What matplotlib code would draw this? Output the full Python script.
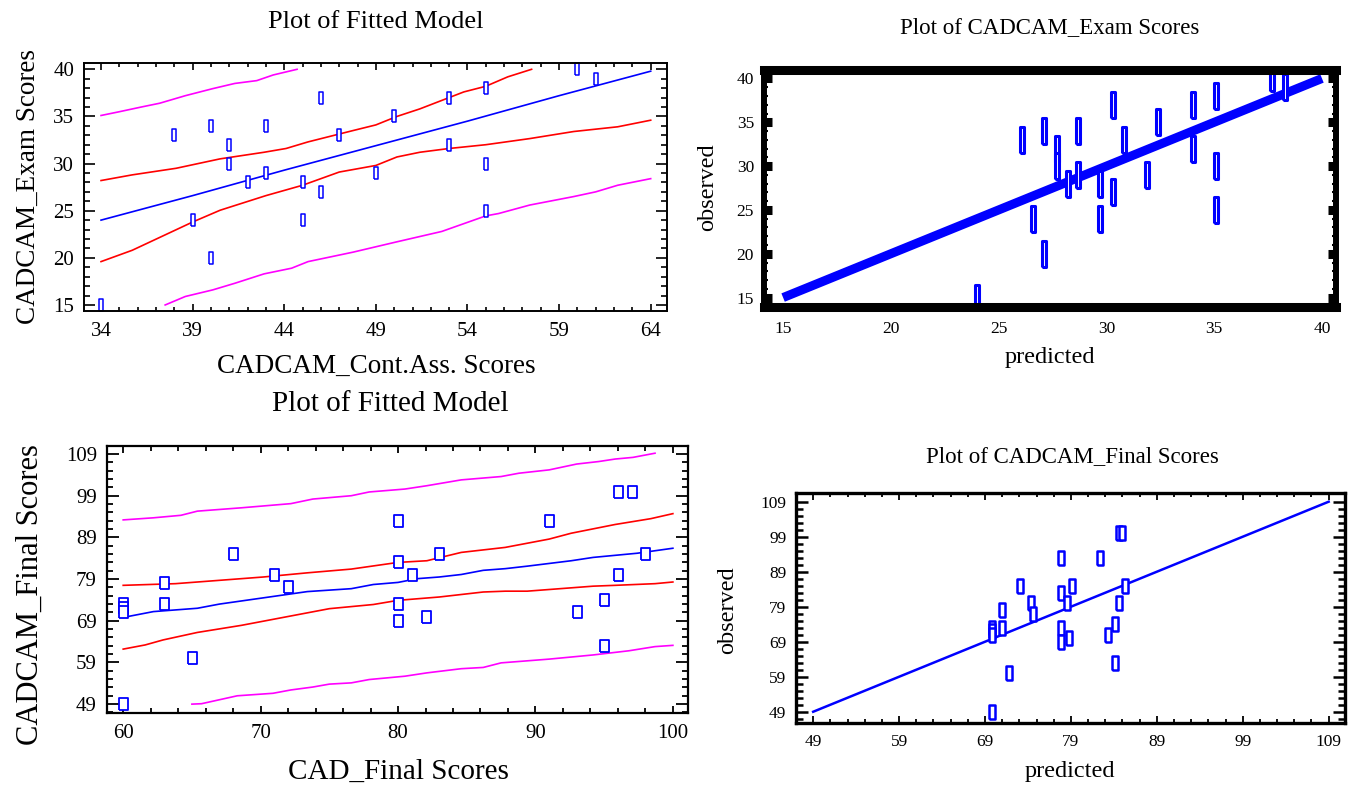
import matplotlib
matplotlib.use("Agg")
import matplotlib.pyplot as plt
from matplotlib.ticker import MultipleLocator

plt.rcParams['font.family'] = ['Liberation Serif', 'DejaVu Serif']

# ---- data: CADCAM exam vs continuous assessment ----
cont_ass = [34, 38, 39, 40, 40, 41, 41, 42, 43, 43, 45, 45, 46, 46, 47, 49, 50, 53, 53, 55, 55, 55, 60, 61]
exam = [15, 33, 24, 34, 20, 32, 30, 28, 34, 29, 28, 24, 37, 27, 33, 29, 35, 37, 32, 38, 30, 25, 40, 39]
exam_pred = [24.0, 26.1, 26.6, 27.1, 27.1, 27.7, 27.7, 28.2, 28.7, 28.7, 29.7, 29.7, 30.3, 30.3, 30.8, 31.9,
             32.4, 34.0, 34.0, 35.1, 35.1, 35.1, 37.7, 38.3]

fit1_x = [34, 39, 44, 49, 54, 59, 64]
fit1_y = [24.0, 26.6, 29.3, 31.9, 34.5, 37.2, 39.8]
conf1_up_x = [34, 35.7, 38.1, 40.5, 42.9, 44.1, 45.3, 47.75, 49.0, 50.15, 51.4, 52.6, 53.8, 55.0, 56.2, 57.5]
conf1_up_y = [28.2, 28.8, 29.5, 30.5, 31.2, 31.6, 32.3, 33.5, 34.1, 35.0, 35.8, 36.7, 37.6, 38.2, 39.2, 40.0]
conf1_lo_x = [34, 35.7, 39.0, 40.5, 43.0, 45.0, 47.0, 49.0, 50.15, 51.4, 53.0, 55.0, 57.4, 59.8, 62.2, 64]
conf1_lo_y = [19.6, 20.8, 23.8, 25.05, 26.6, 27.7, 29.1, 29.8, 30.7, 31.2, 31.6, 32.0, 32.65, 33.4, 33.9, 34.6]
pred1_up_x = [34, 35.0, 36.2, 37.2, 38.6, 40.1, 41.3, 42.5, 43.4, 44.7]
pred1_up_y = [35.1, 35.5, 36.0, 36.4, 37.2, 37.95, 38.5, 38.8, 39.4, 40.0]
pred1_lo_x = [37.5, 38.6, 40.1, 41.3, 42.9, 44.4, 45.3, 47.75, 50.15, 52.6, 55.0, 55.7, 57.4, 59.8, 61.0, 62.2, 64]
pred1_lo_y = [15.0, 15.9, 16.6, 17.3, 18.3, 18.9, 19.6, 20.6, 21.7, 22.8, 24.45, 24.7, 25.6, 26.5, 27.0, 27.7, 28.4]
diag1 = [15, 40]

# ---- data: CADCAM final vs CAD final ----
cad_final = [60, 60, 60, 60, 63, 63, 65, 68, 71, 72, 80, 80, 80, 80, 81, 82, 83, 91, 93, 95, 95, 96, 96, 97, 98]
cadcam_final = [49, 73, 72, 71, 78, 73, 60, 85, 80, 77, 93, 83, 73, 69, 80, 70, 85, 93, 71, 74, 63, 100, 80, 100, 85]
final_pred = [69.8, 69.8, 69.8, 69.8, 71.0, 71.0, 71.8, 73.1, 74.3, 74.6, 77.9, 77.9, 77.9, 77.9, 78.5, 78.8,
              79.1, 82.4, 83.3, 84.1, 84.1, 84.6, 84.6, 84.9, 85.3]

fit2_x = [60, 62.2, 65.4, 67.0, 70.2, 73.4, 76.6, 78.2, 80.0, 81.4, 83.0, 84.6, 86.2, 87.8, 89.4, 92.6, 94.2, 97.4, 100]
fit2_y = [69.8, 71.2, 72.0, 73.0, 74.5, 76.0, 76.7, 77.7, 78.2, 79.1, 79.5, 80.1, 81.1, 81.5, 82.1, 83.4, 84.2, 85.2, 86.4]
conf2_up_x = [60, 63.8, 67.0, 70.2, 73.4, 76.6, 80, 82.1, 84.6, 86.2, 87.8, 91.0, 92.6, 95.8, 98.4, 100]
conf2_up_y = [77.5, 77.9, 78.7, 79.5, 80.5, 81.4, 83.0, 83.4, 85.4, 86.0, 86.6, 88.6, 90.0, 92.1, 93.5, 94.7]
conf2_lo_x = [60, 61.6, 62.9, 65.4, 68.6, 71.8, 75.0, 78.2, 80, 83.0, 86.2, 87.8, 89.4, 92.6, 94.2, 95.8, 98.7, 100]
conf2_lo_y = [62.2, 63.2, 64.4, 66.2, 67.9, 69.9, 71.9, 72.9, 73.9, 74.7, 75.9, 76.1, 76.1, 76.9, 77.3, 77.5, 77.9, 78.3]
pred2_up_x = [60, 62.2, 64.2, 65.4, 68.6, 72.2, 73.8, 76.6, 77.9, 80.5, 82.1, 84.6, 87.5, 88.8, 91.0, 93.0, 94.6,
              95.8, 97.1, 98.7]
pred2_up_y = [93.2, 93.7, 94.3, 95.3, 96.1, 97.1, 98.2, 99.0, 99.9, 100.6, 101.4, 102.8, 103.6, 104.4, 105.2, 106.6,
              107.2, 107.8, 108.2, 109.2]
pred2_lo_x = [65.0, 65.7, 68.3, 70.9, 72.2, 73.8, 75.0, 76.6, 77.9, 80.5, 82.1, 84.6, 86.2, 87.5, 91.0, 94.2, 96.8,
              98.7, 100]
pred2_lo_y = [49.0, 49.1, 51.0, 51.6, 52.4, 53.1, 53.8, 54.1, 54.9, 55.7, 56.5, 57.5, 57.8, 58.9, 59.8, 60.8, 61.8,
              62.8, 63.1]
diag2 = [49, 109]

W, H = 1352, 788
BLUE, RED, MAG = '#0000ff', '#ff0000', '#ff00ff'


def px(x, y):
    return x / W, 1 - y / H


def rect(w, h):
    return [(-w, -h), (w, -h), (w, h), (-w, h), (-w, -h)]


fig = plt.figure(figsize=(W / 100, H / 100), dpi=100)

# axes positions in pixels: left, top, right, bottom
def add_ax(l, t, r, b):
    return fig.add_axes([l / W, 1 - b / H, (r - l) / W, (b - t) / H])


ax1 = add_ax(84, 62.7, 667, 311)
ax2 = add_ax(763.7, 69.7, 1336, 307.2)
ax3 = add_ax(106.7, 445.7, 688, 713.3)
ax4 = add_ax(796, 493.3, 1345, 723.3)

# ---------- top left ----------
lw = 1.2
ax1.plot(fit1_x, fit1_y, color=BLUE, lw=lw)
ax1.plot(conf1_up_x, conf1_up_y, color=RED, lw=lw)
ax1.plot(conf1_lo_x, conf1_lo_y, color=RED, lw=lw)
ax1.plot(pred1_up_x, pred1_up_y, color=MAG, lw=lw)
ax1.plot(pred1_lo_x, pred1_lo_y, color=MAG, lw=lw)
ax1.plot(cont_ass, exam, ls='none', marker=rect(0.4, 1), ms=8, mfc='white', mec=BLUE, mew=1.1, clip_on=False)
ax1.set_xlim(33.07, 64.89)
ax1.set_ylim(14.36, 40.7)
ax1.yaxis.set_major_locator(MultipleLocator(5))
ax1.set_xticks(range(34, 65, 5))
ax1.xaxis.set_minor_locator(MultipleLocator(1))
ax1.yaxis.set_minor_locator(MultipleLocator(1))
ax1.tick_params(which='both', direction='in', top=True, right=True, width=1.2, labelsize=15)
ax1.tick_params(axis='y', which='major', length=8, pad=7)
ax1.tick_params(axis='y', which='minor', length=4.5)
ax1.tick_params(axis='x', which='major', length=5, pad=8)
ax1.tick_params(axis='x', which='minor', length=3)
for s in ax1.spines.values():
    s.set_linewidth(1.4)

# ---------- top right ----------
ax2.plot(diag1, diag1, color=BLUE, lw=6.5, solid_capstyle='butt')
ax2.plot(exam_pred, exam, ls='none', marker=rect(0.14, 1), ms=19, mfc='white', mec=BLUE, mew=2.2, clip_on=True)
ax2.set_xlim(14.1, 40.65)
ax2.set_ylim(13.9, 41.0)
ax2.xaxis.set_major_locator(MultipleLocator(5))
ax2.yaxis.set_major_locator(MultipleLocator(5))
ax2.yaxis.set_minor_locator(MultipleLocator(1))
ax2.tick_params(which='both', direction='in', top=True, right=True, labelsize=12.5)
ax2.tick_params(axis='y', which='major', length=6, width=6.5, pad=7)
ax2.tick_params(axis='y', which='minor', length=3, width=1.5)
ax2.tick_params(axis='x', which='major', length=3, width=1, pad=10)
for k in ['top', 'bottom']:
    ax2.spines[k].set_linewidth(6.5)
for k in ['left', 'right']:
    ax2.spines[k].set_linewidth(4.3)

# ---------- bottom left ----------
ax3.plot(fit2_x, fit2_y, color=BLUE, lw=lw)
ax3.plot(conf2_up_x, conf2_up_y, color=RED, lw=lw)
ax3.plot(conf2_lo_x, conf2_lo_y, color=RED, lw=lw)
ax3.plot(pred2_up_x, pred2_up_y, color=MAG, lw=lw)
ax3.plot(pred2_lo_x, pred2_lo_y, color=MAG, lw=lw)
ax3.plot(cad_final, cadcam_final, ls='none', marker=rect(0.72, 1), ms=9, mfc='white', mec=BLUE, mew=1.3, clip_on=False)
ax3.set_xlim(58.8, 101.1)
ax3.set_ylim(46.8, 111.0)
ax3.set_xticks(range(60, 101, 10))
ax3.set_yticks(range(49, 110, 10))
ax3.xaxis.set_minor_locator(MultipleLocator(2))
ax3.set_yticks([v for v in range(47, 111, 2) if (v - 49) % 10], minor=True)
ax3.tick_params(which='both', direction='in', top=True, right=True, width=1.3, labelsize=15)
ax3.tick_params(axis='y', which='major', length=8.5, pad=7)
ax3.tick_params(axis='y', which='minor', length=4.5)
ax3.tick_params(axis='x', which='major', length=5, pad=8)
ax3.tick_params(axis='x', which='minor', length=3.5)
for s in ax3.spines.values():
    s.set_linewidth(1.6)

# ---------- bottom right ----------
ax4.plot(diag2, diag2, color=BLUE, lw=1.8)
ax4.plot(final_pred, cadcam_final, ls='none', marker=rect(0.4, 1), ms=10.5, mfc='white', mec=BLUE, mew=1.8, clip_on=False)
ax4.set_xlim(47.17, 110.9)
ax4.set_ylim(45.7, 111.4)
ax4.set_xticks(range(49, 110, 10))
ax4.set_yticks(range(49, 110, 10))
ax4.set_xticks([v for v in range(47, 111, 2) if (v - 49) % 10], minor=True)
ax4.set_yticks([v for v in range(47, 111, 2) if (v - 49) % 10], minor=True)
ax4.tick_params(which='both', direction='in', top=True, right=True, labelsize=12.5)
ax4.tick_params(axis='y', which='major', length=8.4, width=1.8, pad=7)
ax4.tick_params(axis='y', which='minor', length=4.8, width=1.8)
ax4.tick_params(axis='x', which='major', length=5, width=1.3, pad=8)
ax4.tick_params(axis='x', which='minor', length=3, width=1.3)
for s in ax4.spines.values():
    s.set_linewidth(2.4)

# ---------- titles and axis labels ----------
def label(x, y, s, size, rot=0):
    fig.text(*px(x, y), s, ha='center', va='center', fontsize=size, rotation=rot)


label(376, 22, 'Plot of Fitted Model', 19)
label(376, 366, 'CADCAM_Cont.Ass. Scores', 19.5)
label(28, 187, 'CADCAM_Exam Scores', 19.5, 90)

label(1050, 28, 'Plot of CADCAM_Exam Scores', 16.5)
label(1050, 358, 'predicted', 17.5)
label(708, 187, 'observed', 17.5, 90)

label(390, 404, 'Plot of Fitted Model', 21)
label(398, 772, 'CAD_Final Scores', 21)
label(30, 595, 'CADCAM_Final Scores', 22, 90)

label(1072, 457, 'Plot of CADCAM_Final Scores', 16.5)
label(1070, 772, 'predicted', 17.5)
label(728, 610, 'observed', 17.5, 90)

fig.savefig('out.png', dpi=100)
